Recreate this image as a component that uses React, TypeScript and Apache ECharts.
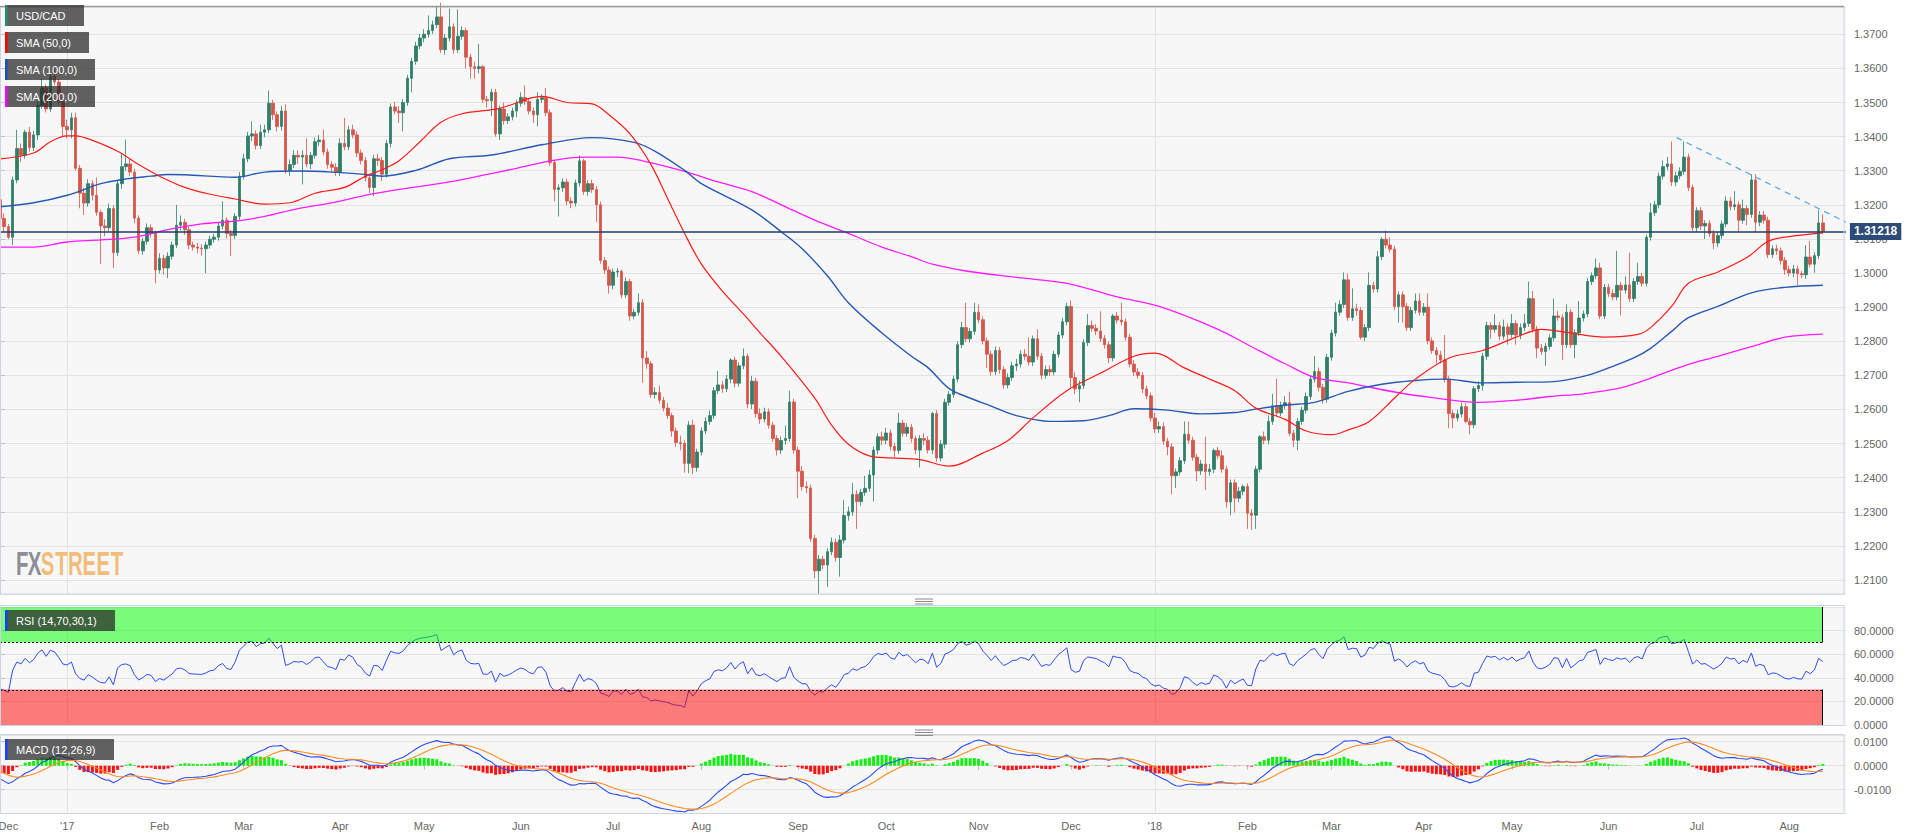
import React, { useEffect, useRef } from "react";
import * as echarts from "echarts";

// ---------------- data ----------------
// closes before the first visible candle, only used to warm up RSI / MACD
const priorCloses = [
  1.339, 1.339, 1.341, 1.341, 1.337, 1.341, 1.346, 1.345, 1.35, 1.353, 1.349, 1.345, 1.349, 1.352,
  1.346, 1.342, 1.348, 1.348, 1.348, 1.345, 1.347, 1.343, 1.332, 1.332, 1.325, 1.33, 1.328, 1.3215,
];
const firstOpen = 1.3215;

// daily closes, 9 Dec 2016 .. 13 Aug 2018 (open = previous close)
const closes = [
  1.3160, 1.3136, 1.3105, 1.3273, 1.3365, 1.3345, 1.3413, 1.3368, 1.3405, 1.3492,
  1.3543, 1.3481, 1.3576, 1.3560, 1.3503, 1.3430, 1.3420, 1.3455, 1.3307, 1.3234,
  1.3205, 1.3262, 1.3228, 1.3178, 1.3138, 1.3133, 1.3189, 1.3060, 1.3262, 1.3312,
  1.3320, 1.3296, 1.3161, 1.3065, 1.3093, 1.3133, 1.3116, 1.3009, 1.3043, 1.3015,
  1.3049, 1.3082, 1.3140, 1.3149, 1.3127, 1.3082, 1.3076, 1.3073, 1.3071, 1.3082,
  1.3099, 1.3105, 1.3138, 1.3155, 1.3116, 1.3110, 1.3166, 1.3284, 1.3335, 1.3402,
  1.3408, 1.3374, 1.3413, 1.3420, 1.3498, 1.3464, 1.3430, 1.3475, 1.3301, 1.3318,
  1.3345, 1.3340, 1.3345, 1.3320, 1.3345, 1.3385, 1.3390, 1.3355, 1.3318, 1.3310,
  1.3295, 1.3380, 1.3370, 1.3420, 1.3405, 1.3352, 1.3330, 1.3279, 1.3251, 1.3335,
  1.3330, 1.3290, 1.3380, 1.3487, 1.3475, 1.3470, 1.3500, 1.3571, 1.3621, 1.3666,
  1.3689, 1.3700, 1.3711, 1.3728, 1.3751, 1.3655, 1.3689, 1.3722, 1.3655, 1.3694,
  1.3711, 1.3633, 1.3605, 1.3600, 1.3605, 1.3509, 1.3505, 1.3530, 1.3408, 1.3481,
  1.3447, 1.3458, 1.3475, 1.3498, 1.3515, 1.3503, 1.3475, 1.3464, 1.3509, 1.3514,
  1.3470, 1.3324, 1.3245, 1.3250, 1.3267, 1.3211, 1.3205, 1.3264, 1.3329, 1.3239,
  1.3262, 1.3245, 1.3200, 1.3037, 1.3009, 1.2964, 1.3003, 1.3005, 1.2936, 1.2975,
  1.2874, 1.2885, 1.2913, 1.2751, 1.2734, 1.2644, 1.2650, 1.2627, 1.2604, 1.2582,
  1.2537, 1.2503, 1.2500, 1.2442, 1.2554, 1.2430, 1.2475, 1.2537, 1.2565, 1.2582,
  1.2655, 1.2672, 1.2661, 1.2689, 1.2745, 1.2677, 1.2728, 1.2756, 1.2616, 1.2683,
  1.2588, 1.2572, 1.2593, 1.2554, 1.2515, 1.2481, 1.2509, 1.2515, 1.2622, 1.2481,
  1.2419, 1.2374, 1.2370, 1.2222, 1.2127, 1.2161, 1.2144, 1.2183, 1.2211, 1.2166,
  1.2217, 1.2289, 1.2300, 1.2351, 1.2330, 1.2357, 1.2369, 1.2408, 1.2481, 1.2520,
  1.2510, 1.2531, 1.2492, 1.2480, 1.2560, 1.2530, 1.2548, 1.2515, 1.2481, 1.2515,
  1.2510, 1.2481, 1.2588, 1.2458, 1.2498, 1.2621, 1.2644, 1.2689, 1.2790, 1.2840,
  1.2807, 1.2829, 1.2885, 1.2863, 1.2801, 1.2762, 1.2711, 1.2773, 1.2717, 1.2672,
  1.2694, 1.2728, 1.2733, 1.2762, 1.2756, 1.2739, 1.2807, 1.2756, 1.2700, 1.2717,
  1.2710, 1.2762, 1.2818, 1.2857, 1.2902, 1.2694, 1.2660, 1.2670, 1.2796, 1.2846,
  1.2838, 1.2830, 1.2808, 1.2790, 1.2751, 1.2874, 1.2862, 1.2857, 1.2812, 1.2733,
  1.2710, 1.2700, 1.2660, 1.2640, 1.2575, 1.2543, 1.2550, 1.2507, 1.2490, 1.2406,
  1.2417, 1.2450, 1.2527, 1.2510, 1.2460, 1.2420, 1.2440, 1.2418, 1.2425, 1.2480,
  1.2464, 1.2425, 1.2329, 1.2385, 1.2340, 1.2360, 1.2374, 1.2296, 1.2290, 1.2425,
  1.2520, 1.2510, 1.2565, 1.2611, 1.2590, 1.2611, 1.2620, 1.2530, 1.2510, 1.2565,
  1.2598, 1.2638, 1.2689, 1.2711, 1.2665, 1.2630, 1.2753, 1.2824, 1.2885, 1.2908,
  1.2980, 1.2870, 1.2895, 1.2890, 1.2812, 1.2840, 1.2964, 1.2953, 1.3048, 1.3099,
  1.3082, 1.3070, 1.2902, 1.2936, 1.2902, 1.2840, 1.2891, 1.2918, 1.2885, 1.2900,
  1.2801, 1.2773, 1.2760, 1.2745, 1.2689, 1.2588, 1.2575, 1.2587, 1.2608, 1.2565,
  1.2555, 1.2661, 1.2670, 1.2756, 1.2846, 1.2835, 1.2846, 1.2815, 1.2842, 1.2820,
  1.2852, 1.2818, 1.2840, 1.2852, 1.2925, 1.2835, 1.2780, 1.2770, 1.2785, 1.2810,
  1.2874, 1.2870, 1.2790, 1.2885, 1.2790, 1.2825, 1.2868, 1.2880, 1.2975, 1.2992,
  1.3015, 1.2874, 1.2958, 1.2940, 1.2930, 1.2964, 1.2950, 1.2965, 1.2925, 1.2975,
  1.2990, 1.2970, 1.3105, 1.3177, 1.3200, 1.3284, 1.3312, 1.3320, 1.3267, 1.3285,
  1.3298, 1.3340, 1.3251, 1.3133, 1.3183, 1.3138, 1.3145, 1.3116, 1.3088, 1.3110,
  1.3144, 1.3211, 1.3195, 1.3200, 1.3155, 1.3189, 1.3172, 1.3273, 1.3149, 1.3170,
  1.3155, 1.3054, 1.3071, 1.3065, 1.3037, 1.3010, 1.3000, 1.3012, 1.2998, 1.2995,
  1.3047, 1.3026, 1.3051, 1.3147, 1.31218,
];

// wick lengths in pips above the body / below the body
const upperWickPips = [
  10,15,8,10,55,15,7,15,12,10, 27,10,12,22,8,5,20,15,15,10, 15,13,10,52,8,20,15,10,10,38,
  71,15,10,8,10,12,10,8,15,10, 12,10,60,20,10,8,10,12,12,10, 10,10,10,55,8,10,10,12,15,12,
  37,10,22,15,37,10,10,15,20,15, 15,15,15,50,10,12,15,30,10,10, 12,15,75,12,15,10,10,10,10,12,
  15,10,10,10,15,15,10,10,10,12, 12,15,44,12,29,42,12,53,10,79, 12,8,10,15,67,5,10,10,10,10,
  19,10,10,10,15,35,10,10,21,10, 29,10,8,10,10,10,12,10,16,6, 10,12,10,10,10,10,10,10,5,12,
  8,10,27,10,20,8,15,20,10,15, 8,10,20,10,12,16,10,10,12,15, 10,41,12,12,5,10,10,23,8,15,
  10,15,12,10,10,10,12,38,33,10, 10,15,15,10,10,12,10,10,14,10, 15,46,15,34,12,10,36,15,10,10,
  15,15,10,10,30,10,12,10,8,10, 15,12,5,10,12,10,10,10,10,17, 73,10,28,23,10,10,10,12,10,10,
  12,12,15,12,15,56,10,28,10,12, 12,10,10,12,11,18,15,15,10,34, 15,12,58,10,10,6,12,51,10,10,
  12,12,10,10,10,15,15,12,10,10, 10,10,38,38,10,10,12,80,15,5, 10,16,10,10,10,12,6,10,12,10,
  5,15,18,35,79,12,19,32,10,10, 10,12,11,46,12,10,10,10,28,12, 22,18,60,15,10,10,38,11,17,6,
  26,23,10,10,10,10,10,22,22,12, 40,10,10,12,73,10,10,12,12,10, 10,8,12,10,11,10,34,10,21,10,
  28,10,12,28,50,22,10,12,10,10, 51,15,10,23,10,10,50,10,11,10, 28,15,10,10,12,101,10,25,95,10,
  40,10,8,28,12,10,18,20,66,12, 12,46,10,8,10,10,10,10,10,10, 10,14,12,40,10,26,10,17,17,12,
  12,10,10,12,10,10,12,12,10,8, 35,47,10,38,25,
];
const lowerWickPips = [
  20,16,6,23,10,20,10,12,10,15, 10,10,8,10,12,30,25,25,7,44, 35,10,15,10,112,25,10,45,10,15,
  12,12,15,10,12,10,12,39,10,20, 30,10,8,15,15,12,10,15,20,71, 10,10,10,10,15,60,10,10,10,10,
  15,12,10,15,10,15,15,12,10,16, 10,20,80,10,15,10,12,10,12,15, 10,10,10,10,10,12,12,10,16,25,
  15,20,10,12,10,30,55,10,41,10, 10,12,10,10,10,10,15,10,12,10, 10,33,35,30,15,10,20,45,8,18,
  12,10,10,18,10,10,10,24,34,10, 10,10,35,79,12,12,15,10,10,10, 12,10,50,10,12,24,12,15,10,10,
  14,10,10,73,15,10,12,10,10,10, 17,12,20,27,29,20,12,10,10,10, 10,10,12,10,12,12,10,10,12,15,
  12,15,10,10,10,16,12,12,10,10, 79,12,15,10,22,67,12,64,10,12, 56,10,15,12,80,12,10,10,78,12,
  15,12,12,20,10,10,10,12,12,51, 15,10,12,11,10,12,10,10,10,10, 10,10,10,10,10,40,12,10,12,11,
  10,10,15,10,12,10,12,10,12,10, 12,10,10,10,10,30,15,39,10,10, 10,12,10,12,15,10,10,10,10,10,
  12,10,12,10,10,12,12,10,24,54, 36,10,10,10,10,30,12,54,12,12, 10,10,17,39,42,12,12,46,43,40,
  10,12,12,10,10,10,10,8,20,30, 10,10,10,10,12,13,10,10,10,10, 10,10,10,15,7,12,10,10,10,10,
  10,10,10,47,47,10,10,10,10,10, 10,10,25,10,10,43,30,10,10,5, 28,10,10,15,10,28,10,12,10,30,
  10,28,12,10,10,10,30,10,42,10, 10,10,45,10,10,40,10,10,10,10, 10,9,9,10,10,10,75,10,10,10,
  10,10,10,10,10,10,10,10,12,12, 10,10,10,10,13,12,38,10,18,12, 10,10,12,10,35,10,32,10,29,12,
  10,10,10,12,12,15,10,12,33,10, 12,10,25,10,8,
];

// moving averages: [candle index, value]
const sma50Points = [
  [0,1.3335],[8,1.3352],[12,1.3385],[16,1.3402],[18,1.3402],[22,1.3389],[28,1.3357],[33,1.3318],
  [38,1.3284],[44,1.3251],[49,1.3234],[56,1.3217],[63,1.3202],[69,1.3206],[75,1.3234],[82,1.3251],
  [87,1.3284],[91,1.3303],[95,1.3329],[100,1.3385],[105,1.3442],[110,1.3467],[119,1.3483],
  [129,1.3518],[135,1.35],[141,1.3496],[145,1.3464],[150,1.3408],[155,1.3318],[159,1.3217],
  [163,1.3116],[167,1.3026],[172,1.2947],[177,1.288],[181,1.2824],[186,1.2756],[194,1.2633],
  [198,1.2554],[202,1.2498],[207,1.2464],[212,1.2458],[219,1.2453],[226,1.2434],[234,1.2472],
  [240,1.2509],[246,1.2576],[254,1.2655],[262,1.2706],[270,1.2756],[275,1.2765],[282,1.2722],
  [288,1.2689],[294,1.2655],[299,1.2604],[306,1.2571],[311,1.2537],[317,1.2526],[321,1.254],
  [326,1.2565],[332,1.2633],[337,1.2689],[345,1.2751],[353,1.2773],[361,1.2812],[367,1.2835],
  [373,1.2826],[382,1.2812],[390,1.282],[393,1.284],[398,1.2902],[402,1.297],[409,1.3003],
  [416,1.3046],[421,1.3093],[426,1.3107],[434,1.3118],
];
const sma100Points = [
  [0,1.3194],[8,1.3206],[16,1.3228],[24,1.3262],[30,1.3276],[36,1.3284],[40,1.3289],[44,1.3288],
  [56,1.3281],[63,1.3296],[71,1.3299],[79,1.3296],[86,1.329],[91,1.3284],[99,1.3301],[107,1.3335],
  [117,1.3346],[129,1.3376],[141,1.3397],[151,1.3383],[156,1.3357],[163,1.3301],[167,1.3262],
  [179,1.3185],[186,1.3121],[191,1.3071],[197,1.2992],[202,1.2913],[210,1.2824],[217,1.2756],
  [221,1.2722],[226,1.2661],[230,1.2638],[236,1.261],[242,1.2582],[250,1.2565],[258,1.2567],
  [264,1.2582],[270,1.2602],[278,1.2598],[286,1.2587],[294,1.2591],[299,1.2601],[306,1.2613],
  [313,1.2621],[321,1.2653],[329,1.2674],[337,1.2685],[344,1.2689],[353,1.2678],[361,1.268],
  [369,1.2681],[377,1.2697],[383,1.2722],[389,1.2751],[393,1.2779],[398,1.2829],[402,1.2869],
  [409,1.2902],[417,1.2942],[425,1.2958],[434,1.2964],
];
const sma200Points = [
  [0,1.3076],[8,1.3076],[16,1.3091],[24,1.3097],[32,1.3105],[40,1.3127],[48,1.3144],[56,1.3152],
  [63,1.3166],[71,1.3189],[79,1.3206],[87,1.3228],[95,1.3245],[107,1.3267],[123,1.3307],
  [131,1.3329],[139,1.334],[147,1.334],[153,1.3329],[163,1.3298],[171,1.3267],[179,1.3239],
  [186,1.32],[194,1.3155],[202,1.3116],[210,1.3076],[217,1.3048],[222,1.3026],[230,1.3006],
  [242,1.2987],[254,1.297],[266,1.293],[276,1.2902],[290,1.2835],[298,1.2784],[306,1.2734],
  [313,1.2694],[321,1.2678],[333,1.2649],[341,1.2635],[352,1.2621],[361,1.2627],[369,1.2638],
  [377,1.2646],[385,1.2661],[391,1.2683],[401,1.2728],[409,1.2756],[417,1.2784],[425,1.2812],
  [434,1.2821],
];

const lastPrice = 1.31218;
const trendLinePoints = [[399.2, 1.3397], [439.5, 1.3149]];
const skippedDays = ["2017-12-25", "2018-01-01"];
const monthNames = ["Jan","Feb","Mar","Apr","May","Jun","Jul","Aug","Sep","Oct","Nov","Dec"];
const priceRange = [1.2059, 1.378];
const macdRange = [-0.0199, 0.0128];
const rsiZones = [[0, 434, 70, 100], [0, 434, 0, 30]];
const legendTexts = ["USD/CAD", "SMA (50,0)", "SMA (100,0)", "SMA (200,0)", "RSI (14,70,30,1)", "MACD (12,26,9)"];
const logoLetters = ["F", "X", "S", "T", "R", "E", "E", "T"];

// ---------------- helpers ----------------
function buildDates(): string[] {
  const out: string[] = [];
  const d = new Date(Date.UTC(2016, 11, 9));
  const end = Date.UTC(2018, 7, 13);
  while (d.getTime() <= end) {
    const wd = d.getUTCDay();
    const s = d.toISOString().slice(0, 10);
    if (wd !== 0 && wd !== 6 && skippedDays.indexOf(s) < 0) out.push(s);
    d.setUTCDate(d.getUTCDate() + 1);
  }
  return out;
}

function ema(src: number[], n: number): number[] {
  const k = 2 / (n + 1);
  const out: number[] = [];
  let e = src[0];
  for (let i = 0; i < src.length; i++) {
    e = i === 0 ? src[0] : src[i] * k + e * (1 - k);
    out.push(e);
  }
  return out;
}

function rsi(src: number[], p: number): (number | null)[] {
  const out: (number | null)[] = src.map(() => null);
  let g = 0, l = 0;
  for (let i = 1; i <= p; i++) {
    const ch = src[i] - src[i - 1];
    if (ch > 0) g += ch; else l -= ch;
  }
  g /= p; l /= p;
  out[p] = l === 0 ? 100 : 100 - 100 / (1 + g / l);
  for (let i = p + 1; i < src.length; i++) {
    const ch = src[i] - src[i - 1];
    g = (g * (p - 1) + Math.max(ch, 0)) / p;
    l = (l * (p - 1) + Math.max(-ch, 0)) / p;
    out[i] = l === 0 ? 100 : 100 - 100 / (1 + g / l);
  }
  return out;
}

const FONT = '"Liberation Sans", Arial, Helvetica, sans-serif';

function buildOption() {
  const dates = buildDates().slice(0, closes.length);
  const N = closes.length;
  const PAD = 5;
  const cats = dates.concat(Array.from({ length: PAD }, (_, i) => "pad" + i));

  const candles = closes.map((c, i) => {
    const o = i === 0 ? firstOpen : closes[i - 1];
    const hi = Math.max(o, c) + upperWickPips[i] / 10000;
    const lo = Math.min(o, c) - lowerWickPips[i] / 10000;
    return [o, c, lo, hi];
  });

  const all = priorCloses.concat(closes);
  const off = priorCloses.length;
  const rsiVals = rsi(all, 14).slice(off);
  const e12 = ema(all, 12), e26 = ema(all, 26);
  const macdAll = e12.map((v, i) => v - e26[i]);
  const sigAll = ema(macdAll, 9);
  const macd = macdAll.slice(off);
  const signal = sigAll.slice(off);
  const hist = macd.map((v, i) => v - signal[i]);

  // month labels
  const labelMap: Record<number, string> = { 2: "Dec" };
  const yearIdx: number[] = [];
  for (let i = 1; i < N; i++) {
    const m = +dates[i].slice(5, 7) - 1;
    const pm = +dates[i - 1].slice(5, 7) - 1;
    if (m !== pm) {
      if (m === 0) {
        labelMap[i] = "'" + dates[i].slice(2, 4);
        yearIdx.push(i);
      } else labelMap[i] = monthNames[m];
    }
  }

  const GL = -2.1, GW = 1848;
  const gridBase = { left: GL, width: GW, show: true, backgroundColor: "#f7f7f7", borderWidth: 0, containLabel: false, outerBoundsMode: "none" };

  const catAxis = (gi: number, showLabels: boolean) => ({
    type: "category", gridIndex: gi, data: cats, boundaryGap: true, show: showLabels,
    axisLine: { show: false },
    axisTick: { show: showLabels, interval: (i: number) => labelMap[i] !== undefined, alignWithLabel: true, length: 4, lineStyle: { color: "#b8c0cf" } },
    axisLabel: { show: showLabels, interval: (i: number) => labelMap[i] !== undefined, formatter: (_v: string, i: number) => labelMap[i] || "", color: "#666", fontSize: 11, fontFamily: FONT, margin: 7 },
    splitLine: { show: false },
  });
  const valAxis = (gi: number) => ({ type: "value", gridIndex: gi, min: -0.5, max: N + PAD - 0.5, show: false, splitLine: { show: false } });

  const yCommon = {
    position: "right", axisLine: { show: false },
    axisTick: { show: true, length: 5, lineStyle: { color: "#b8c0cf" } },
    splitLine: { show: true, lineStyle: { color: "#e3e3e3", width: 1 } },
  };

  const yearLineSeries = (xi: number, yi: number, yv: number) => ({
    type: "custom", xAxisIndex: xi, yAxisIndex: yi, silent: true, z: 0,
    data: yearIdx.map((i) => [i, yv]),
    renderItem: (params: any, api: any) => {
      const x = Math.round(api.coord([api.value(0), yv])[0]) + 0.5;
      const cs = params.coordSys;
      return { type: "line", shape: { x1: x, y1: cs.y, x2: x, y2: cs.y + cs.height }, style: { stroke: "#e2e2e2", lineWidth: 1 } };
    },
  });

  const legendRows = [
    { y: 5, w: 79, c: "#2b8a6e" },
    { y: 32, w: 84, c: "#ff0000" },
    { y: 59, w: 90, c: "#1b4fb6" },
    { y: 86, w: 90, c: "#ff00ff" },
    { y: 610, w: 110, c: "#1540ff" },
    { y: 739, w: 109, c: "#1540ff" },
  ];
  const graphics: any[] = [];
  // panel borders
  graphics.push({ type: "rect", z: 50, silent: true, shape: { x: 0.5, y: 6.5, width: 1843.5, height: 587.5 }, style: { fill: "none", stroke: "#ccd4e2", lineWidth: 1 } });
  graphics.push({ type: "line", z: 51, silent: true, shape: { x1: 0, y1: 6.5, x2: 1844, y2: 6.5 }, style: { stroke: "#9a9a9a", lineWidth: 1.5 } });
  graphics.push({ type: "rect", z: 50, silent: true, shape: { x: 0.5, y: 605.5, width: 1843.5, height: 120 }, style: { fill: "none", stroke: "#ccd4e2", lineWidth: 1 } });
  graphics.push({ type: "rect", z: 50, silent: true, shape: { x: 0.5, y: 734.5, width: 1843.5, height: 79 }, style: { fill: "none", stroke: "#ccd4e2", lineWidth: 1 } });
  // resize handles
  [599, 601.5, 604, 730, 732.5, 735.5].forEach((y) => {
    graphics.push({ type: "line", z: 52, silent: true, shape: { x1: 915, y1: y, x2: 933, y2: y }, style: { stroke: "#8a8a8a", lineWidth: 1 } });
  });
  // legend boxes
  legendRows.forEach((r, i) => {
    graphics.push({ type: "rect", z: 60, silent: true, shape: { x: 5, y: r.y, width: r.w, height: 21 }, style: { fill: "rgba(40,40,40,0.73)" } });
    graphics.push({ type: "rect", z: 61, silent: true, shape: { x: 5, y: r.y, width: 2.5, height: 21 }, style: { fill: r.c } });
    graphics.push({
      type: "text", z: 62, silent: true, x: 16, y: r.y + 10.5,
      style: { text: legendTexts[i], fill: "#ffffff", font: "11px " + FONT, textVerticalAlign: "middle", verticalAlign: "middle", textAlign: "left", align: "left" },
    });
  });
  // FXSTREET watermark
  const letterX = [22.2, 34.5, 47.6, 61.5, 75.4, 89.3, 103.2, 117.1];
  logoLetters.forEach((ch, i) => {
    graphics.push({
      type: "text", z: 5, silent: true, x: letterX[i], y: 563, scaleX: 0.6,
      style: { text: ch, fill: i < 2 ? "#8b8e98" : "#f2bd7a", font: 'bold 34px "Liberation Sans", Arial, sans-serif', textAlign: "center", align: "center", textVerticalAlign: "middle", verticalAlign: "middle" },
    });
  });

  return {
    animation: false,
    backgroundColor: "#ffffff",
    grid: [
      { ...gridBase, top: 7, height: 587 },
      { ...gridBase, top: 607, height: 118 },
      { ...gridBase, top: 735, height: 78.5 },
    ],
    xAxis: [catAxis(0, false), catAxis(1, false), catAxis(2, true), valAxis(0), valAxis(1), valAxis(2)],
    yAxis: [
      {
        ...yCommon, type: "value", gridIndex: 0, min: priceRange[0], max: priceRange[1],
        minInterval: 0.01, maxInterval: 0.01, splitNumber: 17,
        axisLabel: { color: "#666", fontSize: 11, fontFamily: FONT, margin: 8, showMinLabel: false, showMaxLabel: false, formatter: (v: number) => v.toFixed(4) },
      },
      {
        ...yCommon, type: "value", gridIndex: 1, min: 0, max: 100, interval: 20,
        axisLabel: { color: "#666", fontSize: 11, fontFamily: FONT, margin: 8, showMaxLabel: false, formatter: (v: number) => v.toFixed(4) },
      },
      {
        ...yCommon, type: "value", gridIndex: 2, min: macdRange[0], max: macdRange[1],
        minInterval: 0.01, maxInterval: 0.01,
        axisLabel: { color: "#666", fontSize: 11, fontFamily: FONT, margin: 8, showMinLabel: false, showMaxLabel: false, formatter: (v: number) => (Math.abs(v) < 1e-9 ? 0 : v).toFixed(4) },
      },
    ],
    graphic: { elements: graphics },
    series: [
      yearLineSeries(3, 0, 1.3),
      yearLineSeries(4, 1, 50),
      yearLineSeries(5, 2, 0),
      {
        type: "candlestick", xAxisIndex: 0, yAxisIndex: 0, data: candles, barWidth: 3, silent: true, z: 2,
        itemStyle: { color: "#2f7f68", color0: "#d6564a", borderColor: "#2f7f68", borderColor0: "#d6564a", borderWidth: 0.8 },
        markLine: {
          silent: true, symbol: ["none", "none"], animation: false, precision: 5,
          lineStyle: { color: "#1e3d6d", width: 1.5, type: "solid" },
          label: { show: true, position: "end", distance: 4, formatter: lastPrice.toFixed(5), backgroundColor: "#2c4b76", color: "#ffffff", fontWeight: "bold", fontSize: 12, fontFamily: FONT, padding: [3, 4, 2, 4] },
          data: [{ yAxis: lastPrice }],
        },
      },
      { type: "line", xAxisIndex: 3, yAxisIndex: 0, data: sma200Points, smooth: 0.35, showSymbol: false, silent: true, z: 3, lineStyle: { color: "#ff1aff", width: 1.3 } },
      { type: "line", xAxisIndex: 3, yAxisIndex: 0, data: sma100Points, smooth: 0.35, showSymbol: false, silent: true, z: 3, lineStyle: { color: "#2658b4", width: 1.4 } },
      { type: "line", xAxisIndex: 3, yAxisIndex: 0, data: sma50Points, smooth: 0.35, showSymbol: false, silent: true, z: 3, lineStyle: { color: "#ff1a1a", width: 1.2 } },
      { type: "line", xAxisIndex: 3, yAxisIndex: 0, data: trendLinePoints, showSymbol: false, silent: true, z: 3, lineStyle: { color: "#4da6f2", width: 1.2, type: [6, 5] } },
      { type: "line", xAxisIndex: 1, yAxisIndex: 1, data: rsiVals, showSymbol: false, silent: true, z: 2, lineStyle: { color: "#2d4cf0", width: 1 } },
      {
        type: "custom", xAxisIndex: 4, yAxisIndex: 1, silent: true, z: 5, data: rsiZones,
        renderItem: (_p: any, api: any) => {
          const x0 = api.value(0), x1 = api.value(1), yLo = api.value(2), yHi = api.value(3);
          const tl = api.coord([x0, yHi]);
          const br = api.coord([x1, yLo]);
          const green = yLo >= 50;
          const dotY = Math.round(green ? br[1] : tl[1]) + 0.5;
          const lx = Math.round(tl[0]) + 0.5, rx = Math.round(br[0]) - 0.5;
          return {
            type: "group",
            children: [
              { type: "rect", shape: { x: tl[0], y: tl[1], width: br[0] - tl[0], height: br[1] - tl[1] }, style: { fill: green ? "rgba(0,255,0,0.5)" : "rgba(255,0,0,0.5)" } },
              { type: "line", shape: { x1: lx, y1: tl[1], x2: lx, y2: br[1] }, style: { stroke: "#000", lineWidth: 1 } },
              { type: "line", shape: { x1: rx, y1: tl[1], x2: rx, y2: br[1] }, style: { stroke: "#000", lineWidth: 1 } },
              { type: "line", shape: { x1: tl[0], y1: dotY, x2: br[0], y2: dotY }, style: { stroke: "#000", lineWidth: 1, lineDash: [2, 2] } },
            ],
          };
        },
      },
      {
        type: "bar", xAxisIndex: 2, yAxisIndex: 2, barWidth: 3, silent: true, z: 2,
        data: hist.map((v) => ({ value: v, itemStyle: { color: v >= 0 ? "#11ee11" : "#ff1111" } })),
      },
      { type: "line", xAxisIndex: 2, yAxisIndex: 2, data: macd, showSymbol: false, silent: true, z: 3, lineStyle: { color: "#2d4cf0", width: 1.1 } },
      { type: "line", xAxisIndex: 2, yAxisIndex: 2, data: signal, showSymbol: false, silent: true, z: 3, lineStyle: { color: "#ff8a1f", width: 1.1 } },
    ],
  };
}

export default function App() {
  const ref = useRef<HTMLDivElement>(null);
  useEffect(() => {
    if (!ref.current) return;
    const chart = echarts.init(ref.current, null, { renderer: "svg" });
    chart.setOption(buildOption() as any);
    return () => chart.dispose();
  }, []);
  return (
    <div
      ref={ref}
      style={{ position: "fixed", left: 0, top: 0, width: 1919, height: 838, background: "#ffffff" }}
    />
  );
}
